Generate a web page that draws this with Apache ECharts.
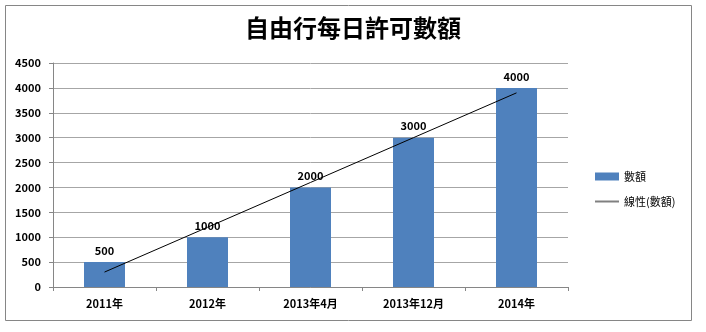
<!DOCTYPE html>
<html><head><meta charset="utf-8">
<script src="https://cdn.jsdelivr.net/npm/echarts@6/dist/echarts.min.js"></script>
<style>html,body{margin:0;padding:0;background:#fff}#c{width:706px;height:332px}</style>
</head><body><div id="c"></div>
<script>
const categories = ['2011年','2012年','2013年4月','2013年12月','2014年'];
const amounts = [500, 1000, 2000, 3000, 4000];
const trend = [300, 1200, 2100, 3000, 3900];
const titleText = '自由行每日許可數額';
const seriesNames = ['數額', '線性(數額)'];

const chart = echarts.init(document.getElementById('c'));
const lblFont = {fontFamily:'"Noto Sans CJK TC", "DejaVu Sans", sans-serif', fontWeight:'bold', fontSize:11, color:'#000'};
chart.setOption({
  animation:false,
  backgroundColor:'#fff',
  title:{text:titleText, left:'center', top:11,
    textStyle:{fontFamily:'"Noto Sans CJK TC", sans-serif', fontWeight:'bold', fontSize:24, color:'#000'}},
  graphic:[{type:'rect', shape:{x:5.5,y:5.5,width:686,height:315}, style:{fill:null, stroke:'#868686', lineWidth:1}, silent:true, z:-1}],
  grid:{left:53, right:138, top:63, bottom:45},
  legend:{orient:'vertical', left:590, top:166, itemWidth:24, itemHeight:8, itemGap:14,
    textStyle:{fontFamily:'"Noto Sans CJK TC", sans-serif', fontSize:11, color:'#000'},
    data:[{name:seriesNames[0], icon:'rect'},
          {name:seriesNames[1], icon:'path://M0,0L24,0L24,2L0,2Z', itemStyle:{color:'#808080'}}]},
  xAxis:{type:'category', data:categories, boundaryGap:true,
    axisLine:{lineStyle:{color:'#868686'}},
    axisTick:{show:true, length:4, lineStyle:{color:'#868686'}},
    axisLabel:Object.assign({margin:11, interval:0}, lblFont)},
  yAxis:{type:'value', min:0, max:4500, interval:500,
    axisLine:{show:true, lineStyle:{color:'#868686'}},
    axisTick:{show:true, length:4, lineStyle:{color:'#868686'}},
    axisLabel:Object.assign({margin:12, formatter:function(v){return String(v);}}, lblFont),
    splitLine:{lineStyle:{color:'#a6a6a6', width:1}}},
  series:[
    {name:seriesNames[0], type:'bar', data:amounts, barWidth:41,
      itemStyle:{color:'#4f81bd'},
      label:Object.assign({show:true, position:'top', distance:6}, lblFont)},
    {name:seriesNames[1], type:'line', data:trend, symbol:'none',
      lineStyle:{color:'#000', width:1}, itemStyle:{color:'#000'}, z:5}
  ]
});
</script></body></html>
